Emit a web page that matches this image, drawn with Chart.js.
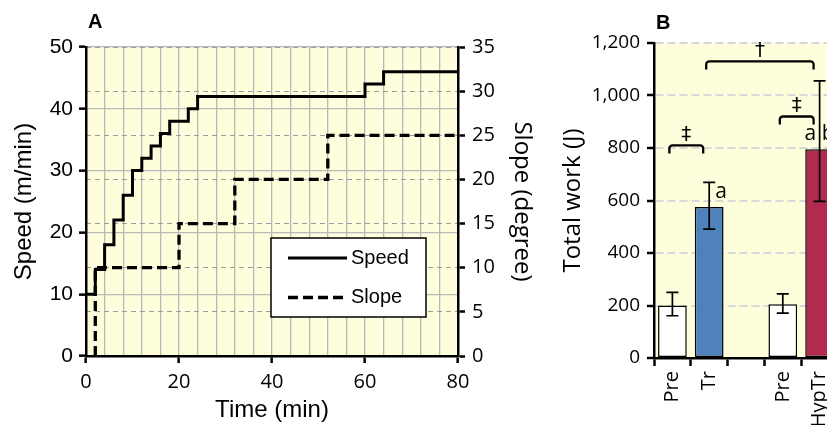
<!DOCTYPE html>
<html>
<head>
<meta charset="utf-8">
<script src="https://cdn.jsdelivr.net/npm/chart.js@4.4.1/dist/chart.umd.min.js"></script>
<style>
  html, body { margin: 0; padding: 0; background: #fff; overflow: hidden; }
  #wrap { position: relative; width: 827px; height: 425px; overflow: hidden; }
  #speedChart { position: absolute; left: 0; top: 0; }
  #workChart { position: absolute; left: 555px; top: 0; }
</style>
</head>
<body>
<div id="wrap">
  <canvas id="speedChart" width="555" height="425"></canvas>
  <canvas id="workChart" width="310" height="425"></canvas>
</div>
<script>
// panel A - exercise protocol (time in min)
var speedTime = [0, 2, 4, 6, 8, 10, 12, 14, 16, 18, 22, 24, 60, 64, 80];
var speedValues = [10, 14, 18, 22, 26, 30, 32, 34, 36, 38, 40, 42, 44, 46, 46];
var slopeTime = [2, 2, 20, 32, 52, 80];
var slopeValues = [0, 10, 15, 20, 25, 25];

// panel B - total work (J)
var workLabels = ['Pre', 'Tr', '', 'Pre', 'HypTr'];
var workValues = [200, 575, null, 205, 795];
var workErrHigh = [250, 669, null, 244, 1056];
var workErrLow = [161, 491, null, 171, 597];
var workLetters = ['', 'a', '', '', 'a b'];
var workColors = ['#ffffff', '#4f81bd', '#ffffff', '#ffffff', '#b22a50'];
// brackets: from category, to category, height (J), mark
var bracketFrom = [0, 3, 1];
var bracketTo = [1, 4, 4];
var bracketLevel = [810, 920, 1130];
var bracketMark = ['\u2021', '\u2021', '\u2020'];

document.addEventListener("DOMContentLoaded", function() {

    var plotBg = {
        id: 'plotBg',
        beforeDraw: function(chart, args, opts) {
            var a = chart.chartArea, c = chart.ctx;
            c.save();
            c.fillStyle = opts.color;
            c.fillRect(a.left, a.top, a.right - a.left, a.bottom - a.top);
            c.restore();
        }
    };

    var panelLabel = {
        id: 'panelLabel',
        afterDraw: function(chart, args, opts) {
            var c = chart.ctx;
            c.save();
            c.font = 'bold 20px "Liberation Sans", Arial, sans-serif';
            c.fillStyle = '#000';
            c.textBaseline = 'middle';
            c.fillText(opts.text, opts.x, opts.y);
            c.restore();
        }
    };

    // legend box drawn inside the plot area
    var boxLegend = {
        id: 'boxLegend',
        afterDatasetsDraw: function(chart) {
            var a = chart.chartArea, c = chart.ctx;
            var left = a.left + 185, top = a.top + 191, w = 155, h = 79;
            c.save();
            c.fillStyle = '#fff';
            c.fillRect(left, top, w, h);
            c.strokeStyle = '#000';
            c.lineWidth = 1.5;
            c.strokeRect(left, top, w, h);
            c.font = '20px "Liberation Sans", Arial, sans-serif';
            c.textBaseline = 'middle';
            chart.data.datasets.forEach(function(ds, i) {
                var y = top + 20 + i * 39.5;
                c.beginPath();
                c.setLineDash(ds.borderDash || []);
                c.lineWidth = ds.borderWidth;
                c.moveTo(left + 17, y);
                c.lineTo(left + 76, y);
                c.stroke();
                c.setLineDash([]);
                c.fillStyle = '#000';
                c.fillText(ds.label, left + 80, y);
            });
            c.restore();
        }
    };

    var ctxSpeed = document.getElementById('speedChart').getContext('2d');
    var speedChart = new Chart(ctxSpeed, {
        type: 'line',
        data: {
            datasets: [
                {
                    label: 'Speed',
                    data: speedTime.map(function(t, i) { return {x: t, y: speedValues[i]}; }),
                    yAxisID: 'y',
                    stepped: 'before',
                    borderColor: '#000',
                    borderWidth: 3,
                    pointRadius: 0,
                    fill: false
                },
                {
                    label: 'Slope',
                    data: slopeTime.map(function(t, i) { return {x: t, y: slopeValues[i]}; }),
                    yAxisID: 'y2',
                    stepped: 'before',
                    borderColor: '#000',
                    borderWidth: 3.3,
                    borderDash: [10, 5],
                    pointRadius: 0,
                    fill: false
                }
            ]
        },
        options: {
            responsive: false,
            animation: false,
            layout: { padding: { top: 47, left: 0, right: 0, bottom: 0 } },
            plugins: {
                legend: { display: false },
                tooltip: { enabled: false },
                plotBg: { color: '#fefedc' },
                panelLabel: { text: 'A', x: 88, y: 22 }
            },
            scales: {
                x: {
                    type: 'linear',
                    min: 0,
                    max: 80,
                    ticks: {
                        stepSize: 4,
                        autoSkip: false,
                        maxRotation: 0,
                        padding: 7,
                        color: '#000',
                        font: { family: 'Open Sans', size: 20 },
                        callback: function(v) { return v % 20 === 0 ? v : ''; }
                    },
                    grid: {
                        color: '#b9b9b9',
                        lineWidth: 1.3,
                        tickLength: 7,
                        tickWidth: 2.5,
                        tickColor: function(c) { return c.tick && c.tick.value % 20 === 0 ? '#000' : 'rgba(0,0,0,0)'; }
                    },
                    border: { color: '#000', width: 2.5 },
                    title: {
                        display: true,
                        text: 'Time (min)',
                        color: '#000',
                        font: { family: 'Liberation Sans', size: 24 },
                        padding: { top: 0, bottom: 0 }
                    },
                    afterFit: function(s) { s.height = 69; }
                },
                y: {
                    position: 'left',
                    min: 0,
                    max: 50,
                    ticks: {
                        stepSize: 10,
                        padding: 6,
                        color: '#000',
                        font: { family: 'Liberation Sans', size: 21 }
                    },
                    grid: { color: '#b9b9b9', lineWidth: 1.3, tickLength: 7, tickWidth: 2.5, tickColor: '#000' },
                    border: { color: '#000', width: 2.5 },
                    title: {
                        display: true,
                        text: 'Speed (m/min)',
                        color: '#000',
                        font: { family: 'Liberation Sans', size: 24 },
                        padding: { top: 10, bottom: 0 }
                    },
                    afterFit: function(s) { s.width = 86; }
                },
                y2: {
                    position: 'right',
                    min: 0,
                    max: 35,
                    ticks: {
                        stepSize: 5,
                        padding: 7,
                        color: '#000',
                        font: { family: 'Open Sans', size: 20 }
                    },
                    grid: { color: '#9c9c9c', lineWidth: 1, tickLength: 7, tickWidth: 2.5, tickColor: '#000' },
                    border: { color: '#000', width: 2.5, dash: [5, 4] },
                    title: {
                        display: true,
                        text: 'Slope (degree)',
                        color: '#000',
                        font: { family: 'Open Sans', size: 24 },
                        padding: { top: 19, bottom: 0 }
                    },
                    afterFit: function(s) { s.width = 97; }
                }
            }
        },
        plugins: [plotBg, panelLabel, boxLegend]
    });

    // error bars, significance brackets and letters for panel B
    var workMarks = {
        id: 'workMarks',
        afterDatasetsDraw: function(chart) {
            var c = chart.ctx;
            var meta = chart.getDatasetMeta(0);
            var yScale = chart.scales.y;
            c.save();
            c.strokeStyle = '#000';
            c.fillStyle = '#000';

            c.lineWidth = 1.7;
            workValues.forEach(function(v, i) {
                if (v === null) return;
                var x = meta.data[i].x;
                var yH = yScale.getPixelForValue(workErrHigh[i]);
                var yL = yScale.getPixelForValue(workErrLow[i]);
                c.beginPath();
                c.moveTo(x, yH); c.lineTo(x, yL);
                c.moveTo(x - 6, yH); c.lineTo(x + 6, yH);
                c.moveTo(x - 6, yL); c.lineTo(x + 6, yL);
                c.stroke();
            });

            c.font = '21px "Open Sans", sans-serif';
            c.textBaseline = 'middle';
            c.textAlign = 'center';
            workLetters.forEach(function(t, i) {
                if (!t) return;
                var bar = meta.data[i];
                var dx = t.length === 1 ? 12 : 0;
                c.fillText(t, bar.x + dx, bar.y - 15);
            });

            c.lineWidth = 2.3;
            c.lineJoin = 'round';
            bracketLevel.forEach(function(lv, k) {
                var x1 = meta.data[bracketFrom[k]].x - 3;
                var x2 = meta.data[bracketTo[k]].x - 6;
                var y = yScale.getPixelForValue(lv);
                var r = 3;
                c.beginPath();
                c.moveTo(x1, y + 8);
                c.arcTo(x1, y, x1 + r, y, r);
                c.lineTo(x2 - r, y);
                c.arcTo(x2, y, x2, y + r, r);
                c.lineTo(x2, y + 8);
                c.stroke();
                c.font = '20px "DejaVu Sans", sans-serif';
                c.textBaseline = 'bottom';
                c.fillText(bracketMark[k], (x1 + x2) / 2, y - 1);
            });
            c.restore();
        }
    };

    var ctxWork = document.getElementById('workChart').getContext('2d');
    var workChart = new Chart(ctxWork, {
        type: 'bar',
        data: {
            labels: workLabels,
            datasets: [{
                label: 'Total work',
                data: workValues,
                backgroundColor: workColors,
                borderColor: '#000',
                borderWidth: 1.5,
                borderSkipped: false,
                barPercentage: 0.78,
                categoryPercentage: 1
            }]
        },
        options: {
            responsive: false,
            animation: false,
            layout: { padding: { top: 43, right: 27, left: 0, bottom: 0 } },
            plugins: {
                legend: { display: false },
                tooltip: { enabled: false },
                plotBg: { color: '#fefedc' },
                panelLabel: { text: 'B', x: 101, y: 23 }
            },
            scales: {
                x: {
                    ticks: {
                        minRotation: 90,
                        maxRotation: 90,
                        autoSkip: false,
                        padding: 5,
                        color: '#000',
                        font: { family: 'Open Sans', size: 20 }
                    },
                    grid: { drawOnChartArea: false, offset: true, tickLength: 8, tickWidth: 2.5, tickColor: '#000' },
                    border: { color: '#000', width: 2.5 },
                    afterFit: function(s) { s.height = 67; }
                },
                y: {
                    min: 0,
                    max: 1200,
                    ticks: {
                        stepSize: 200,
                        padding: 7,
                        color: '#000',
                        font: { family: 'Open Sans', size: 19 },
                        callback: function(v) { return v.toLocaleString('en-US'); }
                    },
                    grid: { color: '#d8d8d8', lineWidth: 2, tickLength: 7, tickWidth: 2.5, tickColor: '#000' },
                    border: { color: '#000', width: 2.5, dash: [8, 4] },
                    title: {
                        display: true,
                        text: 'Total work (J)',
                        color: '#000',
                        font: { family: 'Open Sans', size: 24 },
                        padding: { top: 4, bottom: 0 }
                    },
                    afterFit: function(s) { s.width = 99; }
                }
            }
        },
        plugins: [plotBg, panelLabel, workMarks]
    });
});
</script>
</body>
</html>
